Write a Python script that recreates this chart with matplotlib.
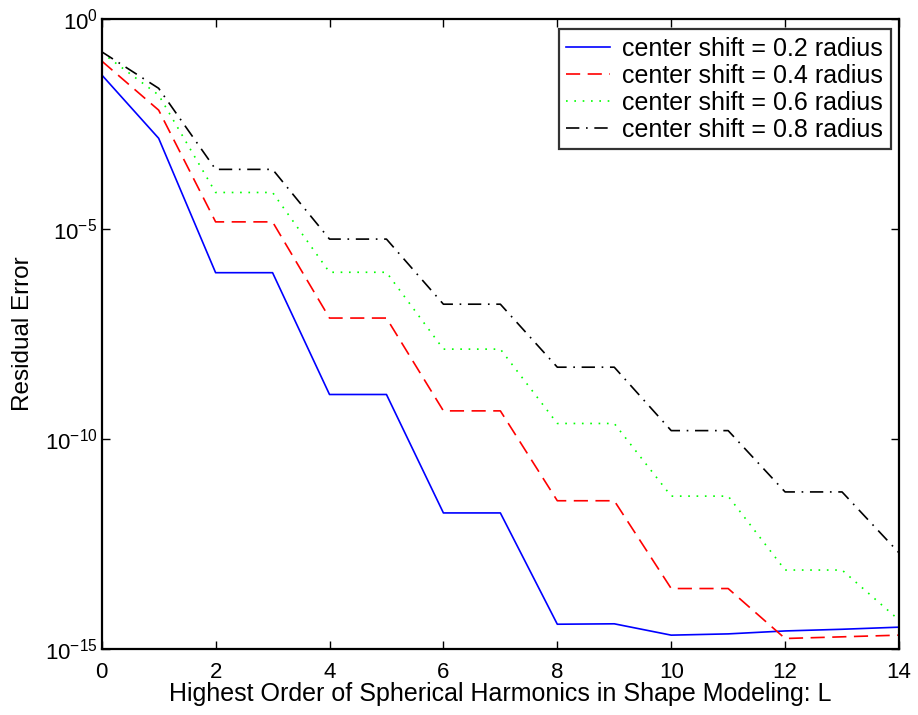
import matplotlib
matplotlib.use("Agg")
import matplotlib.pyplot as plt
import numpy as np
from matplotlib.ticker import FixedLocator, NullLocator, FuncFormatter

plt.rcParams['font.family'] = ['Liberation Sans', 'DejaVu Sans']
plt.rcParams['mathtext.fontset'] = 'custom'
plt.rcParams['mathtext.rm'] = 'Liberation Sans'
plt.rcParams['mathtext.it'] = 'Liberation Sans'

L = list(range(15))
# log10 of residual error (negated exponents)
exp_02 = [1.33, 2.84, 6.04, 6.04, 8.94, 8.94, 11.76, 11.76, 14.41, 14.40, 14.67, 14.64, 14.57, 14.53, 14.48]
exp_04 = [1.00, 2.17, 4.83, 4.83, 7.12, 7.12, 9.33, 9.33, 11.47, 11.47, 13.56, 13.56, 14.75, 14.71, 14.67]
exp_06 = [0.80, 1.81, 4.13, 4.13, 6.03, 6.03, 7.86, 7.86, 9.63, 9.63, 11.36, 11.36, 13.12, 13.12, 14.31]
exp_08 = [0.78, 1.65, 3.58, 3.58, 5.24, 5.24, 6.79, 6.79, 8.29, 8.29, 9.80, 9.80, 11.26, 11.26, 12.71]

labels = ['center shift = 0.2 radius', 'center shift = 0.4 radius',
          'center shift = 0.6 radius', 'center shift = 0.8 radius']

err_02 = 10.0 ** (-np.array(exp_02))
err_04 = 10.0 ** (-np.array(exp_04))
err_06 = 10.0 ** (-np.array(exp_06))
err_08 = 10.0 ** (-np.array(exp_08))

fig = plt.figure(figsize=(9.18, 7.15), dpi=100)
ax = fig.add_axes([0.1108, 0.0923, 0.8685, 0.8811])

ax.plot(L, err_02, color=(0, 0, 1), lw=1.2, linestyle='-', label=labels[0])
ax.plot(L, err_04, color=(1, 0, 0), lw=1.2, linestyle=(0, (8.5, 4.5)), label=labels[1])
ax.plot(L, err_06, color=(0, 1, 0), lw=1.2, linestyle=(0, (1, 4)), label=labels[2])
ax.plot(L, err_08, color='black', lw=1.2, linestyle=(0, (8, 4, 1, 4)), label=labels[3])

ax.set_yscale('log')
ax.set_xlim(0, 14)
ax.set_ylim(1e-15, 1e0)
ax.xaxis.set_major_locator(FixedLocator([0, 2, 4, 6, 8, 10, 12, 14]))
ax.yaxis.set_major_locator(FixedLocator([1e-15, 1e-10, 1e-5, 1e0]))
ax.yaxis.set_minor_locator(NullLocator())
ax.yaxis.set_major_formatter(FuncFormatter(
    lambda v, p: '$10^{%s}$' % ('{-%d}' % -int(round(np.log10(v))) if v < 1 else '0')))

ax.tick_params(direction='in', top=True, right=True, length=6, width=1.0,
               labelsize=16)
ax.tick_params(axis='x', pad=9.5)
ax.tick_params(axis='y', pad=3)
for s in ax.spines.values():
    s.set_linewidth(1.6)

ax.set_xlabel('Highest Order of Spherical Harmonics in Shape Modeling: L', fontsize=18, labelpad=-1)
ax.set_ylabel('Residual Error', fontsize=17.5, labelpad=8)

leg = ax.legend(loc='upper right', bbox_to_anchor=(0.9896, 0.984), fontsize=18,
                frameon=True, fancybox=False, edgecolor='black', borderpad=0.3,
                handlelength=1.75, labelspacing=0.12, handletextpad=0.5, borderaxespad=0.0)
leg.get_frame().set_linewidth(1.6)

fig.savefig('out.png', dpi=100)
